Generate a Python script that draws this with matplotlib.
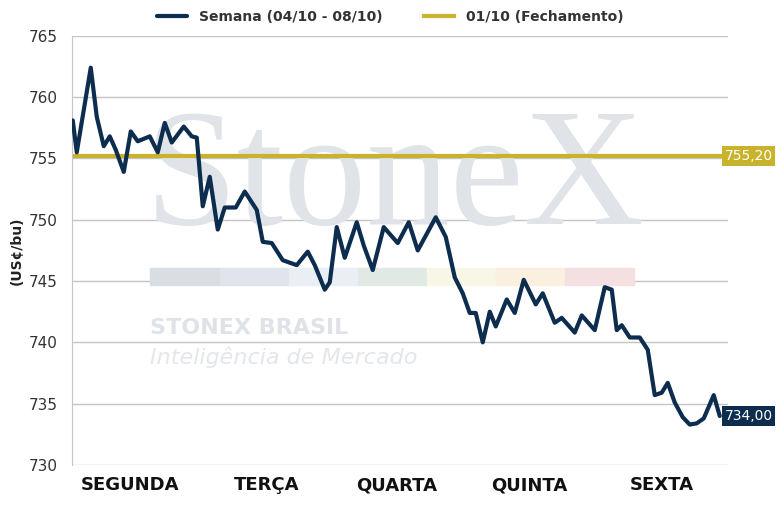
import matplotlib
matplotlib.use("Agg")
import matplotlib.pyplot as plt
import numpy as np

# time position across the week (0 = Monday open, 656 = Friday close)
t = [1, 5, 19, 25, 32, 38, 44, 52, 59, 66, 78, 86, 93, 100, 112, 120, 125,
     131, 138, 146, 153, 164, 173, 185, 191, 200, 211, 225, 236, 243, 253,
     258, 265, 273, 285, 292, 301, 312, 326, 337, 346, 364, 374, 383, 391,
     398, 404, 411, 418, 424, 435, 443, 452, 464, 471, 483, 490, 503, 510,
     523, 533, 540, 545, 550, 558, 568, 576, 583, 590, 596, 603, 611, 618,
     625, 632, 642, 648]
price = [758.1, 755.5, 762.4, 758.4, 756.0, 756.8, 755.7, 753.9, 757.2, 756.4,
         756.8, 755.5, 757.9, 756.3, 757.6, 756.8, 756.7, 751.1, 753.5, 749.2,
         751.0, 751.0, 752.3, 750.8, 748.2, 748.1, 746.7, 746.3, 747.4, 746.3,
         744.3, 744.9, 749.4, 746.9, 749.8, 747.9, 745.9, 749.4, 748.1, 749.8,
         747.5, 750.2, 748.6, 745.3, 744.0, 742.4, 742.4, 740.0, 742.5, 741.3,
         743.5, 742.4, 745.1, 743.1, 744.0, 741.6, 742.0, 740.8, 742.2, 741.0,
         744.5, 744.3, 741.0, 741.4, 740.4, 740.4, 739.4, 735.7, 735.9, 736.7,
         735.1, 733.9, 733.3, 733.4, 733.8, 735.7, 734.0]
close_prev = 755.20
last_price = 734.00
days = ["SEGUNDA", "TERÇA", "QUARTA", "QUINTA", "SEXTA"]
day_pos = [58, 195, 325, 458, 590]
yticks = [730, 735, 740, 745, 750, 755, 760, 765]

NAVY = "#0d2d4f"
GOLD = "#c9b22c"

fig = plt.figure(figsize=(7.8, 5.19), dpi=100)
ax = fig.add_axes([0.092, 0.104, 0.841, 0.827])
ax.set_xlim(0, 656)
ax.set_ylim(730, 765)

# watermark (axes fraction coords, below the data)
ax.text(0.493, 0.655, "StoneX", fontsize=120, family="Liberation Serif",
        color="#e0e4e9", ha="center", va="center",
        transform=ax.transAxes, zorder=1)
wm_cols = ["#d9dee5", "#e0e5ed", "#eaeff6", "#e1e9e4", "#f8f6e4", "#fbefdf", "#f4e0e0"]
for i, c in enumerate(wm_cols):
    ax.add_patch(plt.Rectangle((0.12 + i * 0.1053, 0.419), 0.1053, 0.041,
                               transform=ax.transAxes, color=c, zorder=1))
ax.text(0.12, 0.305, "STONEX BRASIL", fontsize=16, fontweight="bold",
        color="#dfe3e8", transform=ax.transAxes, zorder=1)
ax.text(0.12, 0.235, "Inteligência de Mercado", fontsize=16, style="italic",
        color="#e3e7eb", transform=ax.transAxes, zorder=1)

ax.set_yticks(yticks)
ax.yaxis.grid(True, color="#c4c4c4", linewidth=1, zorder=0)
ax.set_axisbelow(True)
ax.set_xticks(day_pos)
ax.set_xticklabels(days, fontsize=13, color="#111111", fontweight="semibold")
ax.tick_params(axis="both", length=0, pad=8)
ax.tick_params(axis="y", labelsize=11, labelcolor="#333333", pad=10)
for s in ["top", "right", "bottom"]:
    ax.spines[s].set_visible(False)
ax.spines["left"].set_color("#c4c4c4")
ax.set_ylabel("(US¢/bu)", fontsize=10, fontweight="bold", color="#222222")

ax.plot(t, price, color=NAVY, linewidth=3, solid_joinstyle="round",
        solid_capstyle="round", label="Semana (04/10 - 08/10)", zorder=3)
ax.axhline(close_prev, color=GOLD, linewidth=3,
           label="01/10 (Fechamento)", zorder=2)

for val, col in [(close_prev, GOLD), (last_price, NAVY)]:
    ax.text(0.995, val, f"{val:.2f}".replace(".", ","),
            transform=ax.get_yaxis_transform(), fontsize=10, color="white",
            va="center", ha="left", zorder=4,
            bbox=dict(boxstyle="square,pad=0.2", fc=col, ec="none"))

leg = fig.legend(loc="upper center", bbox_to_anchor=(0.5, 1.005), ncol=2,
                 frameon=False, fontsize=10, handlelength=2.2, columnspacing=3)
for txt in leg.get_texts():
    txt.set_fontweight("semibold")
    txt.set_color("#333333")

fig.savefig("out.png", dpi=100)
